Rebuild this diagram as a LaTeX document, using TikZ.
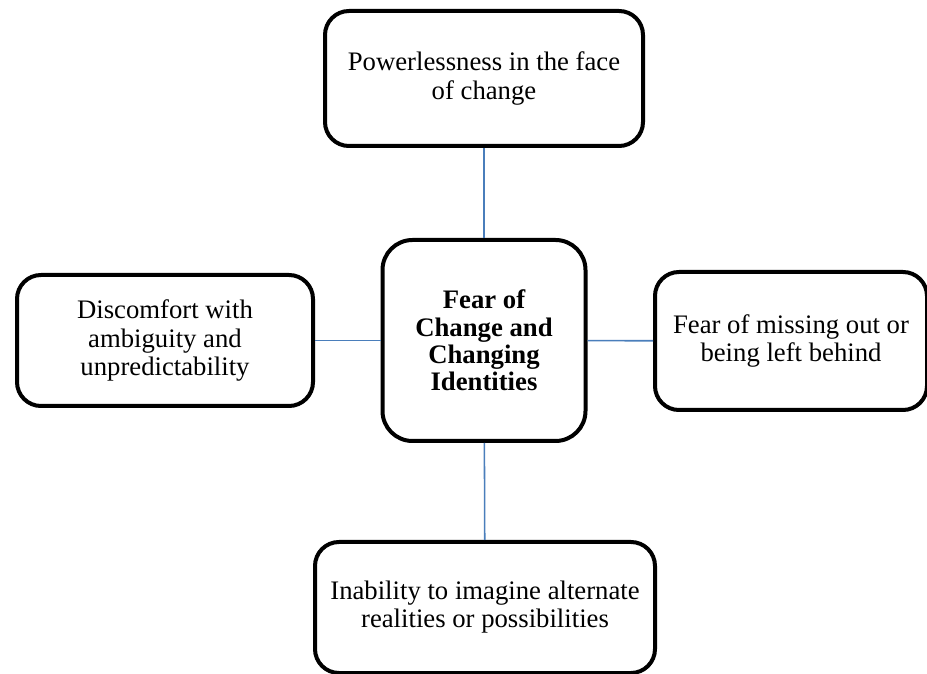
\documentclass[tikz,border=0pt]{standalone}
\usepackage{fontspec}
\setmainfont{Liberation Serif}
\usepackage{tikz}
\definecolor{linkblue}{RGB}{74,126,187}

\begin{document}
\begin{tikzpicture}[
	fearbox/.style={draw=black, line width=0.1cm, rounded corners=0.6cm, align=center,
		font=\fontsize{19pt}{20pt}\selectfont},
	link/.style={draw=linkblue, line width=1.1pt}]
			%%%%% START %%%%%
			
			\useasboundingbox[fill=white] (0, 0) rectangle (23.175, 16.825);
			
			\node[fearbox, rounded corners=0.75cm, minimum width=5.075cm, minimum height=5.025cm,
				font=\fontsize{19pt}{19.5pt}\selectfont\bfseries] (fear) at (12.1, 8.3125)
				{Fear of\\Change and\\Changing\\Identities};
			
			\node[fearbox, minimum width=7.95cm, minimum height=3.375cm] (power) at (12.1, 14.8625)
				{Powerlessness in the face\\of change};
			\node[fearbox, minimum width=7.4cm, minimum height=3.275cm] (ambig) at (4.125, 8.3125)
				{Discomfort with\\ambiguity and\\unpredictability};
			\node[fearbox, minimum width=6.8cm, minimum height=3.45cm] (missing) at (19.775, 8.3)
				{Fear of missing out or\\being left behind};
			\node[fearbox, minimum width=8.5cm, minimum height=3.275cm] (imagine) at (12.125, 1.6375)
				{Inability to imagine alternate\\realities or possibilities};
			
			\draw[link] (power) -- (fear);
			\draw[link] (ambig) -- (fear);
			\draw[link] (fear) -- (missing);
			\draw[link] (fear) -- (imagine);
			
			%%%%% END %%%%%
\end{tikzpicture}
\end{document}
